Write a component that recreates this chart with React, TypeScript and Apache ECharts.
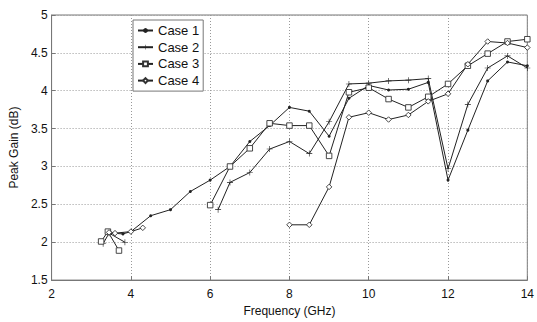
import React, { useEffect, useRef } from "react";
import * as echarts from "echarts";

// Frequencies (GHz) and peak gain (dB); null marks a break in the line
const case1Freq = [3.5, 3.8, 4.0, 4.5, 5.0, 5.5, 6.0, 6.5, 7.0, 7.5, 8.0, 8.5, 9.0, 9.5, 10.0, 10.5, 11.0, 11.5, 12.0, 12.5, 13.0, 13.5, 14.0];
const case1Gain = [2.12, 2.11, 2.14, 2.35, 2.43, 2.67, 2.82, 3.0, 3.33, 3.54, 3.78, 3.73, 3.4, 3.9, 4.07, 4.01, 4.02, 4.11, 2.82, 3.48, 4.13, 4.38, 4.33];

const case2Freq = [3.3, 3.45, 3.85, 5.0, 6.2, 6.5, 7.0, 7.5, 8.0, 8.5, 9.0, 9.5, 10.0, 10.5, 11.0, 11.5, 12.0, 12.5, 13.0, 13.5, 14.0];
const case2Gain = [1.98, 2.12, 2.0, null, 2.43, 2.79, 2.92, 3.23, 3.33, 3.17, 3.59, 4.09, 4.1, 4.13, 4.14, 4.16, 2.97, 3.82, 4.3, 4.46, 4.3];

const case3Freq = [3.25, 3.42, 3.7, 5.0, 6.0, 6.5, 7.0, 7.5, 8.0, 8.5, 9.0, 9.5, 10.0, 10.5, 11.0, 11.5, 12.0, 12.5, 13.0, 13.5, 14.0];
const case3Gain = [2.01, 2.14, 1.89, null, 2.49, 3.0, 3.24, 3.57, 3.54, 3.54, 3.14, 3.98, 4.04, 3.89, 3.78, 3.92, 4.09, 4.33, 4.49, 4.65, 4.68];

const case4Freq = [3.45, 3.6, 4.0, 4.3, 6.0, 8.0, 8.5, 9.0, 9.5, 10.0, 10.5, 11.0, 11.5, 12.0, 12.5, 13.0, 13.5, 14.0];
const case4Gain = [2.13, 2.12, 2.14, 2.19, null, 2.23, 2.23, 2.73, 3.65, 3.71, 3.62, 3.68, 3.86, 3.96, 4.35, 4.65, 4.63, 4.57];

const seriesNames = ["Case 1", "Case 2", "Case 3", "Case 4"];

const pairs = (f: number[], g: (number | null)[]) =>
  f.map((x, i) => [x, g[i] === null ? "-" : g[i]]);

const FONT = "'Liberation Sans', Arial, sans-serif";
const PLUS = "path://M4.5,0h1v4.5h4.5v1h-4.5v4.5h-1v-4.5h-4.5v-1h4.5z";

export default function App() {
  const ref = useRef<HTMLDivElement>(null);
  useEffect(() => {
    if (!ref.current) return;
    const chart = echarts.init(ref.current, undefined, { renderer: "svg" });
    const lineStyle = { color: "#222", width: 1 };
    const mk = (name: string, data: any[], symbol: string, size: number, filled: boolean) => ({
      name,
      type: "line",
      data,
      symbol,
      symbolSize: size,
      showSymbol: true,
      connectNulls: false,
      lineStyle,
      itemStyle: filled
        ? { color: "#222", borderColor: "#222", borderWidth: 0 }
        : { color: "#fff", borderColor: "#333", borderWidth: 0.9 },
      emphasis: { disabled: true },
    });
    chart.setOption({
      animation: false,
      backgroundColor: "#fff",
      grid: {
        left: 47.5,
        right: 6,
        top: 15,
        bottom: 30,
        show: true,
        borderColor: "#777",
        borderWidth: 1,
        backgroundColor: "#fff",
      },
      legend: {
        data: seriesNames,
        orient: "vertical",
        left: 133,
        top: 20,
        padding: [4, 4, 4, 4],
        itemGap: 3.7,
        itemWidth: 15,
        itemHeight: 6,
        backgroundColor: "#fff",
        borderColor: "#777",
        borderWidth: 1,
        borderRadius: 0,
        textStyle: { fontFamily: FONT, fontSize: 13, color: "#111" },
      },
      xAxis: {
        type: "value",
        min: 2,
        max: 14,
        interval: 2,
        name: "Frequency (GHz)",
        nameLocation: "middle",
        nameGap: 23,
        nameTextStyle: { fontFamily: FONT, fontSize: 12, color: "#111" },
        axisLine: { show: true, lineStyle: { color: "#777" } },
        axisTick: { show: true, inside: true, length: 4, lineStyle: { color: "#777" } },
        axisLabel: { fontFamily: FONT, fontSize: 12, color: "#111", margin: 8 },
        splitLine: { show: true, lineStyle: { color: "#999", type: [1, 2], width: 1 } },
      },
      yAxis: {
        type: "value",
        min: 1.5,
        max: 5,
        interval: 0.5,
        name: "Peak Gain (dB)",
        nameLocation: "middle",
        nameGap: 30,
        nameTextStyle: { fontFamily: FONT, fontSize: 12, color: "#111" },
        axisLine: { show: true, lineStyle: { color: "#777" } },
        axisTick: { show: true, inside: true, length: 4, lineStyle: { color: "#777" } },
        axisLabel: { fontFamily: FONT, fontSize: 12, color: "#111", margin: 4 },
        splitLine: { show: true, lineStyle: { color: "#999", type: [1, 2], width: 1 } },
      },
      series: [
        mk(seriesNames[0], pairs(case1Freq, case1Gain), "circle", 3, true),
        mk(seriesNames[1], pairs(case2Freq, case2Gain), PLUS, 6, true),
        mk(seriesNames[2], pairs(case3Freq, case3Gain), "rect", 5.5, false),
        mk(seriesNames[3], pairs(case4Freq, case4Gain), "diamond", 5.5, false),
      ],
    });
    return () => chart.dispose();
  }, []);
  return (
    <div
      ref={ref}
      style={{ position: "fixed", left: 0, top: 0, width: 537, height: 322, background: "#fff" }}
    />
  );
}
